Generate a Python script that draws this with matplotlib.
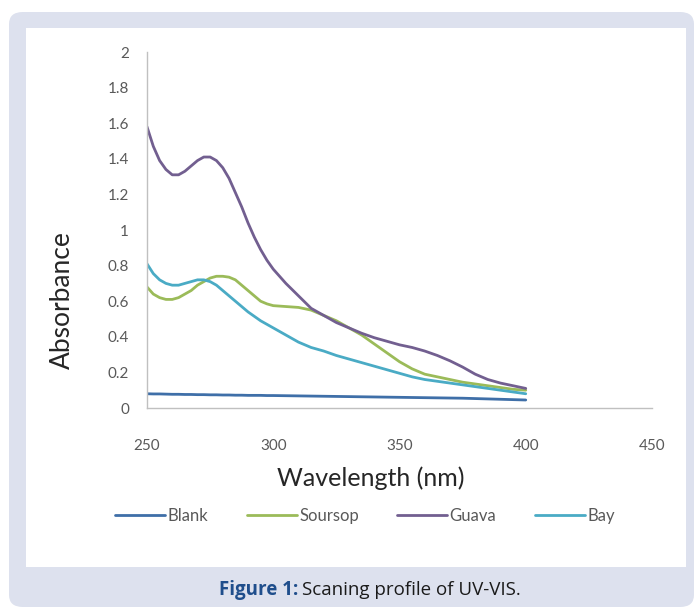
import matplotlib
matplotlib.use("Agg")
import matplotlib.pyplot as plt
from matplotlib.patches import FancyBboxPatch, Rectangle

# data: 2.5 nm steps up to 300 nm, then 5 nm steps
wavelength = [250 + 2.5 * i for i in range(21)] + list(range(305, 401, 5))
blank = [0.080, 0.079, 0.079, 0.078, 0.077, 0.077, 0.076, 0.076, 0.075, 0.075,
         0.074, 0.074, 0.073, 0.073, 0.072, 0.072, 0.071, 0.071, 0.071, 0.070, 0.070,
         0.069, 0.068, 0.067, 0.066, 0.065, 0.064, 0.063, 0.062, 0.061, 0.060,
         0.059, 0.058, 0.057, 0.056, 0.055, 0.053, 0.051, 0.049, 0.047, 0.045]
soursop = [0.68, 0.64, 0.62, 0.61, 0.61, 0.62, 0.64, 0.66, 0.69, 0.71,
           0.73, 0.74, 0.74, 0.735, 0.72, 0.69, 0.66, 0.63, 0.60, 0.585, 0.575,
           0.57, 0.565, 0.55, 0.52, 0.49, 0.45, 0.41, 0.36, 0.31, 0.26,
           0.22, 0.19, 0.175, 0.16, 0.145, 0.135, 0.125, 0.115, 0.105, 0.10]
guava = [1.58, 1.47, 1.39, 1.34, 1.31, 1.31, 1.33, 1.36, 1.39, 1.41,
         1.41, 1.39, 1.35, 1.29, 1.21, 1.13, 1.04, 0.96, 0.89, 0.83, 0.78,
         0.70, 0.63, 0.56, 0.52, 0.48, 0.45, 0.42, 0.395, 0.375, 0.355,
         0.34, 0.32, 0.295, 0.265, 0.23, 0.19, 0.16, 0.14, 0.125, 0.11]
bay = [0.81, 0.755, 0.72, 0.70, 0.69, 0.69, 0.70, 0.71, 0.72, 0.72,
       0.71, 0.69, 0.66, 0.63, 0.60, 0.57, 0.54, 0.515, 0.49, 0.47, 0.45,
       0.41, 0.37, 0.34, 0.32, 0.295, 0.275, 0.255, 0.235, 0.215, 0.195,
       0.175, 0.16, 0.15, 0.14, 0.13, 0.12, 0.11, 0.10, 0.09, 0.08]

names = ["Blank", "Soursop", "Guava", "Bay"]
colors = ["#3f6fa8", "#9bbb59", "#725f90", "#4aabc5"]

W, H = 694, 607
fig = plt.figure(figsize=(W / 100, H / 100), dpi=100)
fig.patch.set_facecolor("white")

# lavender frame and white panel
frame = FancyBboxPatch((9 / W, 0), (W - 9) / W, (H - 12) / H,
                       boxstyle="round,pad=0,rounding_size=0.02",
                       transform=fig.transFigure, facecolor="#dde1ee",
                       edgecolor="none", zorder=0)
fig.patches.append(frame)
panel = Rectangle((26 / W, 1 - 567 / H), (686 - 26) / W, (567 - 28) / H,
                  transform=fig.transFigure, facecolor="white",
                  edgecolor="none", zorder=1)
fig.patches.append(panel)

ax = fig.add_axes([147 / W, 1 - 408 / H, (652 - 147) / W, (408 - 52) / H])
ax.set_facecolor("none")
ax.set_zorder(2)

series = [blank, soursop, guava, bay]
for name, vals, c in zip(names, series, colors):
    ax.plot(wavelength, vals, color=c, lw=2.0, label=name,
            solid_capstyle="round", solid_joinstyle="round")

ax.set_xlim(250, 450)
ax.set_ylim(0, 2)
ax.set_xticks([250, 300, 350, 400, 450])
ax.set_yticks([0, 0.2, 0.4, 0.6, 0.8, 1, 1.2, 1.4, 1.6, 1.8, 2])
ax.set_yticklabels(["0", "0.2", "0.4", "0.6", "0.8", "1", "1.2", "1.4", "1.6", "1.8", "2"])
for s in ["top", "right"]:
    ax.spines[s].set_visible(False)
for s in ["left", "bottom"]:
    ax.spines[s].set_color("#c0c0c0")
    ax.spines[s].set_linewidth(1.0)
ax.tick_params(length=0, labelsize=11, labelcolor="#595959")
ax.tick_params(axis="x", pad=22)
ax.tick_params(axis="y", pad=13)
for lab in ax.get_xticklabels() + ax.get_yticklabels():
    lab.set_family("Lato")

fig.text(62 / W, 1 - 300 / H, "Absorbance", rotation=90, ha="center", va="center",
         fontsize=19, family="Lato", color="#262626")
fig.text(371 / W, 1 - 478 / H, "Wavelength (nm)", ha="center", va="center",
         fontsize=18, family="Lato", color="#262626")

leg = fig.legend(loc="center", bbox_to_anchor=(365 / W, 1 - 516 / H), ncol=4,
                 frameon=False, handlelength=3.0, handletextpad=0.15,
                 columnspacing=2.3, prop={"family": "Lato", "size": 12})
for t in leg.get_texts():
    t.set_color("#595959")

# caption: bold blue label followed by plain text, centred as a whole
cap1 = fig.text(0, 1 - 590 / H, "Figure 1:", ha="left", va="center",
                fontsize=13.5, family="Open Sans", weight="bold", color="#1f4e8c")
cap2 = fig.text(0, 1 - 590 / H, "Scaning profile of UV-VIS.", ha="left",
                va="center", fontsize=13.5, family="Open Sans", color="#1a1a1a")
fig.canvas.draw()
w1 = cap1.get_window_extent().width
w2 = cap2.get_window_extent().width
x0 = 370 - (w1 + 4 + w2) / 2
cap1.set_x(x0 / W)
cap2.set_x((x0 + w1 + 4) / W)

fig.savefig("out.png", dpi=100)
